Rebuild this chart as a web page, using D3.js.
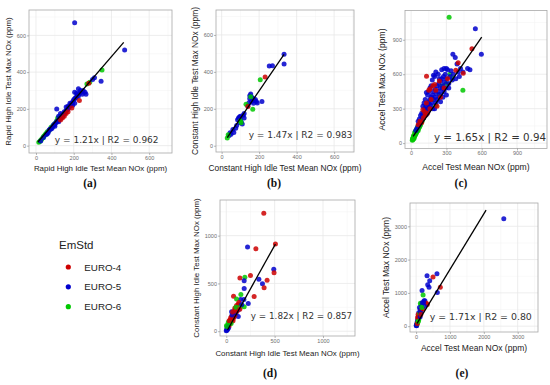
<!DOCTYPE html>
<html>
<head>
<meta charset="utf-8">
<script src="https://cdn.jsdelivr.net/npm/d3@7.9.0/dist/d3.min.js"></script>
<style>
  body { margin: 0; background: #fff; }
  svg { display: block; }
</style>
</head>
<body>
<svg id="fig" width="550" height="385"></svg>
<script>
// emission standards (legend)
const emStd = ["EURO-4", "EURO-5", "EURO-6"];
const emColor = {4: "#cd0000", 5: "#0000cd", 6: "#00c800"};

// points: [mean NOx, max NOx, euro class]
const pointsA = [
  [15,18,6],[20,22,6],[25,30,6],[30,35,6],[35,42,6],[40,50,6],[45,55,6],[50,62,6],[55,68,6],[60,75,6],
  [70,82,6],[80,100,6],[90,110,6],[100,120,6],[110,135,6],[115,150,6],[130,160,6],[150,175,6],[270,335,6],[285,345,6],[350,412,6],
  [25,25,5],[40,45,5],[55,60,5],[65,72,5],[70,85,5],[75,90,5],[85,95,5],[90,105,5],[95,115,5],[100,115,5],
  [105,125,5],[110,130,5],[115,135,5],[120,140,5],[125,145,5],[130,150,5],[135,155,5],[140,160,5],[145,165,5],[150,175,5],
  [155,180,5],[160,190,5],[165,195,5],[170,200,5],[175,210,5],[180,215,5],[185,225,5],[190,230,5],[195,240,5],[200,250,5],
  [205,255,5],[210,260,5],[215,265,5],[220,275,5],[225,270,5],[230,285,5],[240,290,5],[250,300,5],[260,290,5],[205,290,5],
  [215,285,5],[225,310,5],[235,300,5],[245,280,5],[180,230,5],[170,215,5],[160,210,5],[110,200,5],[120,160,5],[130,175,5],
  [140,170,5],[150,185,5],[300,360,5],[310,370,5],[345,350,5],[470,520,5],[205,668,5],[120,130,5],[100,105,5],[80,90,5],
  [60,65,5],[195,220,5],[205,230,5],[265,280,5],
  [130,140,4],[150,160,4],[160,175,4],[170,185,4],[230,245,4],[280,340,4],[190,205,4],[140,150,4]
];
const pointsB = [
  [333,495,5],[333,442,5],[254,432,5],[271,433,5],[150,270,5],[155,280,5],[160,262,5],[165,258,5],[170,252,5],[175,245,5],
  [180,250,5],[185,240,5],[190,232,5],[150,255,5],[160,240,5],[145,232,5],[215,240,5],[170,230,5],[140,215,5],[120,175,5],
  [115,165,5],[100,160,5],[95,155,5],[90,150,5],[85,140,5],[100,140,5],[105,128,5],[110,118,5],[120,150,5],[95,125,5],
  [80,110,5],[75,95,5],[60,88,5],[65,72,5],[50,62,5],[40,55,5],[45,70,5],
  [206,357,6],[130,225,6],[166,198,6],[104,125,6],[35,60,6],[30,42,6],[100,135,6],[155,265,6],
  [232,372,4],[140,212,4]
];
const pointsC = [
  [10,25,6],[12,35,6],[15,30,6],[18,40,6],[20,50,6],[22,45,6],[25,55,6],[28,65,6],[30,60,6],[32,75,6],
  [35,70,6],[38,85,6],[40,80,6],[42,95,6],[45,90,6],[48,105,6],[50,100,6],[55,115,6],[58,125,6],[60,110,6],
  [65,130,6],[70,140,6],[75,150,6],[80,160,6],[85,175,6],[90,185,6],[95,200,6],[100,210,6],[15,45,6],[20,65,6],
  [25,40,6],[30,90,6],[35,100,6],[45,120,6],[55,140,6],[65,160,6],[110,240,6],[120,260,6],[150,300,6],[180,380,6],
  [210,330,6],[240,420,6],[330,600,6],[350,568,6],[440,460,6],[323,1096,6],[260,500,6],[300,520,6],
  [40,110,5],[50,130,5],[60,150,5],[70,165,5],[80,180,5],[90,200,5],[95,230,5],[100,250,5],[105,220,5],[110,270,5],
  [115,300,5],[120,280,5],[125,320,5],[130,250,5],[135,300,5],[140,340,5],[145,280,5],[150,360,5],[155,310,5],[160,380,5],
  [165,330,5],[170,400,5],[175,350,5],[180,420,5],[185,300,5],[190,450,5],[195,380,5],[200,400,5],[205,470,5],[210,350,5],
  [215,430,5],[220,500,5],[225,380,5],[230,450,5],[235,520,5],[240,400,5],[245,480,5],[250,540,5],[255,430,5],[260,560,5],
  [265,470,5],[270,500,5],[275,580,5],[280,450,5],[285,530,5],[290,600,5],[295,480,5],[300,560,5],[310,640,5],[320,520,5],
  [330,580,5],[340,630,5],[350,550,5],[355,775,5],[375,745,5],[390,690,5],[400,620,5],[420,650,5],[440,620,5],[480,650,5],
  [500,640,5],[546,995,5],[597,773,5],[190,590,5],[200,580,5],[210,620,5],[230,600,5],[260,640,5],[280,650,5],[300,650,5],
  [160,480,5],[170,500,5],[140,420,5],[120,380,5],[110,350,5],[100,320,5],[130,440,5],[180,550,5],[150,450,5],[240,560,5],
  [90,260,5],[80,240,5],[70,210,5],[60,190,5],[200,300,5],[250,360,5],[270,400,5],[300,420,5],[320,480,5],[360,600,5],
  [380,560,5],[410,580,5],
  [517,822,4],[162,474,4],[150,460,4],[185,500,4],[200,510,4],[131,582,4],[380,635,4],[443,608,4],[105,221,4],[120,240,4],
  [140,260,4],[160,300,4],[90,180,4],[100,290,4],[130,350,4],[170,380,4],[220,320,4],[250,400,4],[280,480,4],[310,560,4],
  [60,160,4],[75,190,4],[115,270,4],[240,540,4],[400,700,4],[210,460,4]
];
const pointsD = [
  [388,1234,4],[508,912,4],[220,880,5],[306,862,4],[491,648,5],[494,613,4],[422,534,4],[337,544,5],[374,496,5],[391,454,4],
  [250,582,4],[141,558,4],[192,565,6],[185,527,5],[185,447,5],[151,385,6],[75,367,4],[288,363,4],[148,333,5],[182,333,5],
  [227,291,5],[106,336,6],[185,257,6],[124,281,4],[106,270,4],[89,243,4],[55,205,5],[124,222,5],[124,153,5],[55,153,4],
  [72,135,4],[38,118,4],[21,94,6],[3,59,6],[5,10,5],[15,20,5],[10,30,5],[25,40,5],[30,60,4],[40,80,4],
  [50,100,4],[60,120,4],[70,110,4],[80,150,4],[90,170,4],[100,190,5],[110,210,4],[45,140,4],[35,90,6],[20,70,6],
  [50,80,6],[60,170,5],[90,230,4],[100,250,6],[130,300,4],[150,260,6],[160,280,5],[140,230,4],[12,45,5],[8,25,5],
  [0,5,5],[5,50,6],[30,110,4],[65,200,4]
];
const pointsE = [
  [2590,3230,5],[323,1515,5],[617,1576,5],[500,1475,4],[402,1363,5],[343,1242,5],[382,1172,5],[715,1172,4],[627,1010,5],[176,1070,5],
  [206,939,6],[235,767,5],[260,760,5],[127,687,6],[140,640,6],[160,610,6],[304,687,4],[330,650,4],[220,720,5],[180,700,5],
  [100,560,5],[120,500,5],[150,450,4],[80,400,5],[60,350,4],[100,300,4],[70,250,4],[50,200,5],[40,150,5],[30,100,5],
  [20,60,5],[10,30,5],[15,10,5],[25,50,6],[50,120,6],[80,200,6],[60,280,4],[90,330,4],[110,380,6],[130,420,5],
  [200,520,4],[250,600,5],[5,20,5],[35,80,4],[45,250,4],[65,150,6],[120,280,5],[140,350,4],[170,560,6]
];

// axis titles
const xTitles = ["Rapid High Idle Test Mean NOx (ppm)", "Constant High Idle Test Mean NOx (ppm)", "Accel Test Mean NOx (ppm)",
                 "Constant High Idle Test Mean NOx (ppm)", "Accel Test Mean NOx (ppm)"];
const yTitles = ["Rapid High Idle Test Max NOx (ppm)", "Constant High Idle Test Max NOx (ppm)", "Accel Test Max NOx (ppm)",
                 "Constant High Idle Test Max NOx (ppm)", "Accel Test Max NOx (ppm)"];
const panelLabels = ["(a)", "(b)", "(c)", "(d)", "(e)"];
const fitText = ["y = 1.21x | R2 = 0.962", "y = 1.47x | R2 = 0.983", "y = 1.65x | R2 = 0.94",
                 "y = 1.82x | R2 = 0.857", "y = 1.71x | R2 = 0.80"];
// fitted line ends [x0, y0, x1, y1]
const fitLines = [[10,20,465,562],[30,44,333,495],[17,58,600,923],[13,13,508,912],[29,82,2067,3485]];
// where the equation sits [x, y] in data units
const fitTextAt = [[100,32],[144,59],[194,55],[254,156],[403,282]];
const tickValues = [[0,200,400,600],[0,200,400,600],[0,300,600,900],[0,500,1000],[0,1000,2000,3000]];
const xDomains = [[-37,721],[-30,706],[-52,1155],[-65,1331],[-180,3600]];
const yDomains = [[-40,738],[-34,735],[-47,1155],[-50,1373],[-175,3700]];

// layout
const layout = [
  {box: [29, 10, 172, 153], fs: 9,    tf: 7.9, yt: 8.5, xt: 168, lab: [90, 187]},
  {box: [216, 10, 354, 152], fs: 9,   tf: 8.4, yt: 195, xt: 168, lab: [274, 187]},
  {box: [405, 10.5, 547, 148.5], fs: 10.3, tf: 8.6, yt: 382, xt: 167, lab: [461, 187]},
  {box: [220, 200, 355, 336], fs: 8.8, tf: 7.9, yt: 196, xt: 353, lab: [270, 377]},
  {box: [410, 203, 538, 332], fs: 9.4, tf: 8.5, yt: 386, xt: 348, lab: [462, 377]}
];
const allPoints = [pointsA, pointsB, pointsC, pointsD, pointsE];

const svg = d3.select("#fig");
svg.append("rect").attr("width", 550).attr("height", 385).attr("fill", "#fff");

allPoints.forEach((pts, i) => {
  const L = layout[i], b = L.box;
  const x = d3.scaleLinear().domain(xDomains[i]).range([b[0], b[2]]);
  const y = d3.scaleLinear().domain(yDomains[i]).range([b[3], b[1]]);
  const g = svg.append("g");
  const ticks = tickValues[i];
  const step = ticks[1] - ticks[0];
  const minorX = d3.range(-step / 2, xDomains[i][1], step).filter(v => v > xDomains[i][0]);
  const minorY = d3.range(-step / 2, yDomains[i][1], step).filter(v => v > yDomains[i][0]);

  // grid
  g.selectAll(".mx").data(minorX).join("line")
    .attr("x1", d => x(d)).attr("x2", d => x(d)).attr("y1", b[1]).attr("y2", b[3])
    .attr("stroke", "#f3f3f3").attr("stroke-width", 0.5);
  g.selectAll(".my").data(minorY).join("line")
    .attr("y1", d => y(d)).attr("y2", d => y(d)).attr("x1", b[0]).attr("x2", b[2])
    .attr("stroke", "#f3f3f3").attr("stroke-width", 0.5);
  g.selectAll(".gx").data(ticks).join("line")
    .attr("x1", d => x(d)).attr("x2", d => x(d)).attr("y1", b[1]).attr("y2", b[3])
    .attr("stroke", "#e8e8e8").attr("stroke-width", 0.8);
  g.selectAll(".gy").data(ticks).join("line")
    .attr("y1", d => y(d)).attr("y2", d => y(d)).attr("x1", b[0]).attr("x2", b[2])
    .attr("stroke", "#e8e8e8").attr("stroke-width", 0.8);

  // points
  g.append("g").selectAll("circle").data(pts).join("circle")
    .attr("cx", d => x(d[0])).attr("cy", d => y(d[1])).attr("r", 2.5)
    .attr("fill", d => emColor[d[2]]).attr("fill-opacity", 0.85);

  // fitted line
  const f = fitLines[i];
  g.append("line")
    .attr("x1", x(f[0])).attr("y1", y(f[1])).attr("x2", x(f[2])).attr("y2", y(f[3]))
    .attr("stroke", "#000").attr("stroke-width", 1.3);

  // equation
  g.append("text")
    .attr("x", x(fitTextAt[i][0])).attr("y", y(fitTextAt[i][1]))
    .attr("dominant-baseline", "central")
    .attr("font-family", "DejaVu Sans").attr("font-size", L.fs).attr("fill", "#333")
    .text(fitText[i]);

  // border
  g.append("rect").attr("x", b[0]).attr("y", b[1]).attr("width", b[2] - b[0]).attr("height", b[3] - b[1])
    .attr("fill", "none").attr("stroke", "#a8a8a8").attr("stroke-width", 0.8);

  // axes
  const ax = g.append("g").attr("transform", `translate(0,${b[3]})`)
    .call(d3.axisBottom(x).tickValues(ticks).tickSize(2).tickPadding(1).tickFormat(d3.format("d")));
  const ay = g.append("g").attr("transform", `translate(${b[0]},0)`)
    .call(d3.axisLeft(y).tickValues(ticks).tickSize(2).tickPadding(1).tickFormat(d3.format("d")));
  [ax, ay].forEach(a => {
    a.select(".domain").remove();
    a.selectAll("line").attr("stroke", "#888").attr("stroke-width", 0.6);
    a.selectAll("text").attr("font-family", "Liberation Sans, Arial, sans-serif")
      .attr("font-size", 5.5).attr("fill", "#6e6e6e");
  });

  // titles
  g.append("text").attr("x", (b[0] + b[2]) / 2).attr("y", L.xt)
    .attr("text-anchor", "middle").attr("dominant-baseline", "central")
    .attr("font-family", "Liberation Sans, Arial, sans-serif").attr("font-size", L.tf).attr("fill", "#222")
    .text(xTitles[i]);
  g.append("text")
    .attr("transform", `translate(${L.yt},${(b[1] + b[3]) / 2}) rotate(-90)`)
    .attr("text-anchor", "middle").attr("dominant-baseline", "central")
    .attr("font-family", "Liberation Sans, Arial, sans-serif").attr("font-size", L.tf).attr("fill", "#222")
    .text(yTitles[i]);

  // panel label
  svg.append("text").attr("x", L.lab[0]).attr("y", L.lab[1])
    .attr("text-anchor", "middle")
    .attr("font-family", "Liberation Serif, Times New Roman, serif").attr("font-weight", "bold")
    .attr("font-size", 11.5).attr("fill", "#111")
    .text(panelLabels[i]);
});

// legend
const leg = svg.append("g");
leg.append("text").attr("x", 59).attr("y", 245).attr("dominant-baseline", "central")
  .attr("font-family", "Liberation Sans, Arial, sans-serif").attr("font-size", 11.5).attr("fill", "#222")
  .text("EmStd");
const legY = d3.scalePoint().domain(emStd).range([267, 306.7]);
leg.selectAll("circle").data(emStd).join("circle")
  .attr("cx", 68.3).attr("cy", d => legY(d)).attr("r", 2.6)
  .attr("fill", (d, k) => emColor[4 + k]);
leg.selectAll(".lt").data(emStd).join("text")
  .attr("x", 84.3).attr("y", d => legY(d)).attr("dominant-baseline", "central")
  .attr("font-family", "Liberation Sans, Arial, sans-serif").attr("font-size", 9.8).attr("fill", "#222")
  .text(d => d);
</script>
</body>
</html>
